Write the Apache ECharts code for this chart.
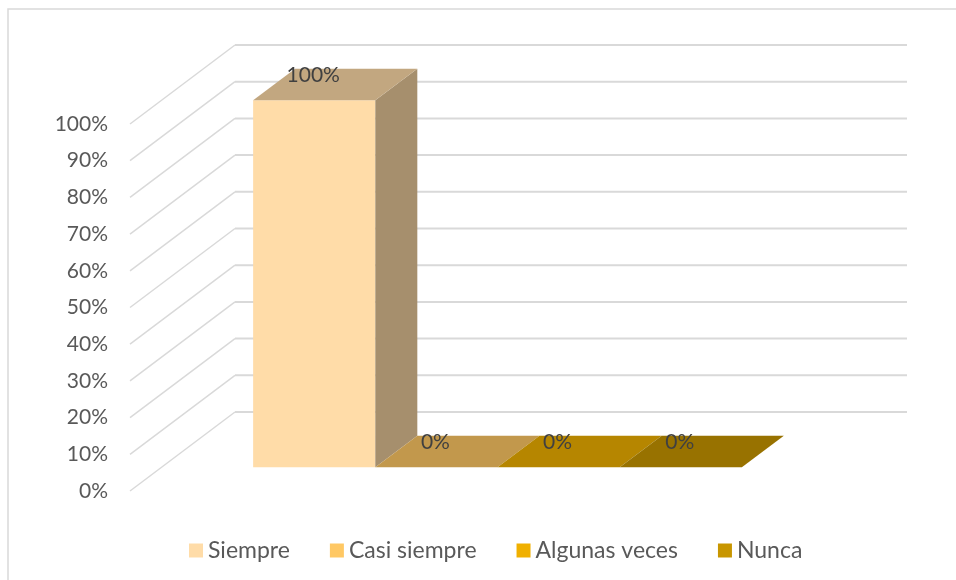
<!DOCTYPE html>
<html>
<head>
<meta charset="utf-8">
<title>Frecuencia</title>
<script src="https://cdn.jsdelivr.net/npm/echarts/dist/echarts.min.js"></script>
<style>
  html, body { margin: 0; padding: 0; background: #fff; }
  #chart { width: 956px; height: 580px; }
</style>
</head>
<body>
<div id="chart"></div>
<script>
// datos
const seriesNames = ['Siempre', 'Casi siempre', 'Algunas veces', 'Nunca']
const seriesValues = [1, 0, 0, 0]
const yTicks = [0, 0.1, 0.2, 0.3, 0.4, 0.5, 0.6, 0.7, 0.8, 0.9, 1]

const colors = ['#FFDCA8', '#FFC864', '#F0B000', '#C89600']
const FONT = 'Lato, "Liberation Sans", sans-serif'

// desplazamiento de profundidad (pared del fondo)
const DEPTH = [105, -79]
const X_MIN = -0.75
const X_MAX = 4.75

function shade(hex, k) {
  const n = parseInt(hex.slice(1), 16)
  const r = Math.round(((n >> 16) & 255) * k)
  const g = Math.round(((n >> 8) & 255) * k)
  const b = Math.round((n & 255) * k)
  return 'rgb(' + r + ',' + g + ',' + b + ')'
}

function off(p, d) {
  return [p[0] + DEPTH[0] * d, p[1] + DEPTH[1] * d]
}

function renderWall(params, api) {
  const v = api.value(1)
  const front = api.coord([X_MIN, v])
  const back = off(front, 1)
  const end = off(api.coord([X_MAX, v]), 1)
  return {
    type: 'group',
    children: [{
      type: 'line',
      shape: { x1: front[0], y1: front[1], x2: back[0], y2: back[1] },
      style: { stroke: '#D9D9D9', lineWidth: 1.5 }
    }, {
      type: 'line',
      shape: { x1: back[0], y1: back[1], x2: end[0], y2: end[1] },
      style: { stroke: '#D9D9D9', lineWidth: 2 }
    }]
  }
}

function makeBarRender(color) {
  return function(params, api) {
    const i = api.value(0)
    const v = api.value(1)
    const lt = api.coord([i, v])
    const rb = api.coord([i + 1, 0])
    const d0 = 0.3
    const d1 = 0.7
    const x0 = lt[0]
    const x1 = rb[0]
    const yt = lt[1]
    const yb = rb[1]
    const children = []
    if (yb - yt > 0.5) {
      const a = off([x0, yt], d0)
      children.push({
        type: 'rect',
        shape: { x: a[0], y: a[1], width: x1 - x0, height: yb - yt },
        style: { fill: color }
      })
      children.push({
        type: 'polygon',
        shape: { points: [off([x1, yt], d0), off([x1, yb], d0), off([x1, yb], d1), off([x1, yt], d1)] },
        style: { fill: shade(color, 0.65) }
      })
    }
    children.push({
      type: 'polygon',
      shape: { points: [off([x0, yt], d0), off([x1, yt], d0), off([x1, yt], d1), off([x0, yt], d1)] },
      style: { fill: shade(color, 0.76) }
    })
    const c = off([(x0 + x1) / 2, yt], (d0 + d1) / 2)
    children.push({
      type: 'text',
      style: {
        text: Math.round(v * 100) + '%',
        x: c[0] - 22,
        y: c[1] - 9,
        fill: '#404040',
        font: '21px ' + FONT,
        align: 'center',
        verticalAlign: 'middle'
      }
    })
    return { type: 'group', children: children }
  }
}

const chart = echarts.init(document.getElementById('chart'))

const series = [{
  type: 'custom',
  name: 'pared',
  silent: true,
  z: 1,
  renderItem: renderWall,
  data: yTicks.map(t => [X_MIN, t])
}]
seriesNames.forEach((name, i) => {
  series.push({
    type: 'custom',
    name: name,
    z: 2 + i,
    itemStyle: { color: colors[i] },
    renderItem: makeBarRender(colors[i]),
    data: [[i, seriesValues[i]]]
  })
})

chart.setOption({
  animation: false,
  color: colors,
  graphic: [{
    type: 'rect',
    shape: { x: 8, y: 9, width: 980, height: 600 },
    style: { fill: 'none', stroke: '#D9D9D9', lineWidth: 1.5 },
    silent: true
  }],
  legend: {
    data: seriesNames,
    left: 184,
    top: 534,
    icon: 'rect',
    itemWidth: 14,
    itemHeight: 14,
    itemGap: 40,
    textStyle: { color: '#595959', fontSize: 23, fontFamily: FONT }
  },
  grid: {
    left: 130,
    right: 154,
    top: 124,
    bottom: 89
  },
  xAxis: {
    type: 'value',
    min: X_MIN,
    max: X_MAX,
    show: false
  },
  yAxis: {
    type: 'value',
    min: 0,
    max: 1,
    interval: 0.1,
    axisLine: { show: false },
    axisTick: { show: false },
    splitLine: { show: false },
    axisLabel: {
      margin: 22,
      color: '#595959',
      fontSize: 21,
      fontFamily: FONT,
      formatter: v => Math.round(v * 100) + '%'
    }
  },
  series: series
})
</script>
</body>
</html>
